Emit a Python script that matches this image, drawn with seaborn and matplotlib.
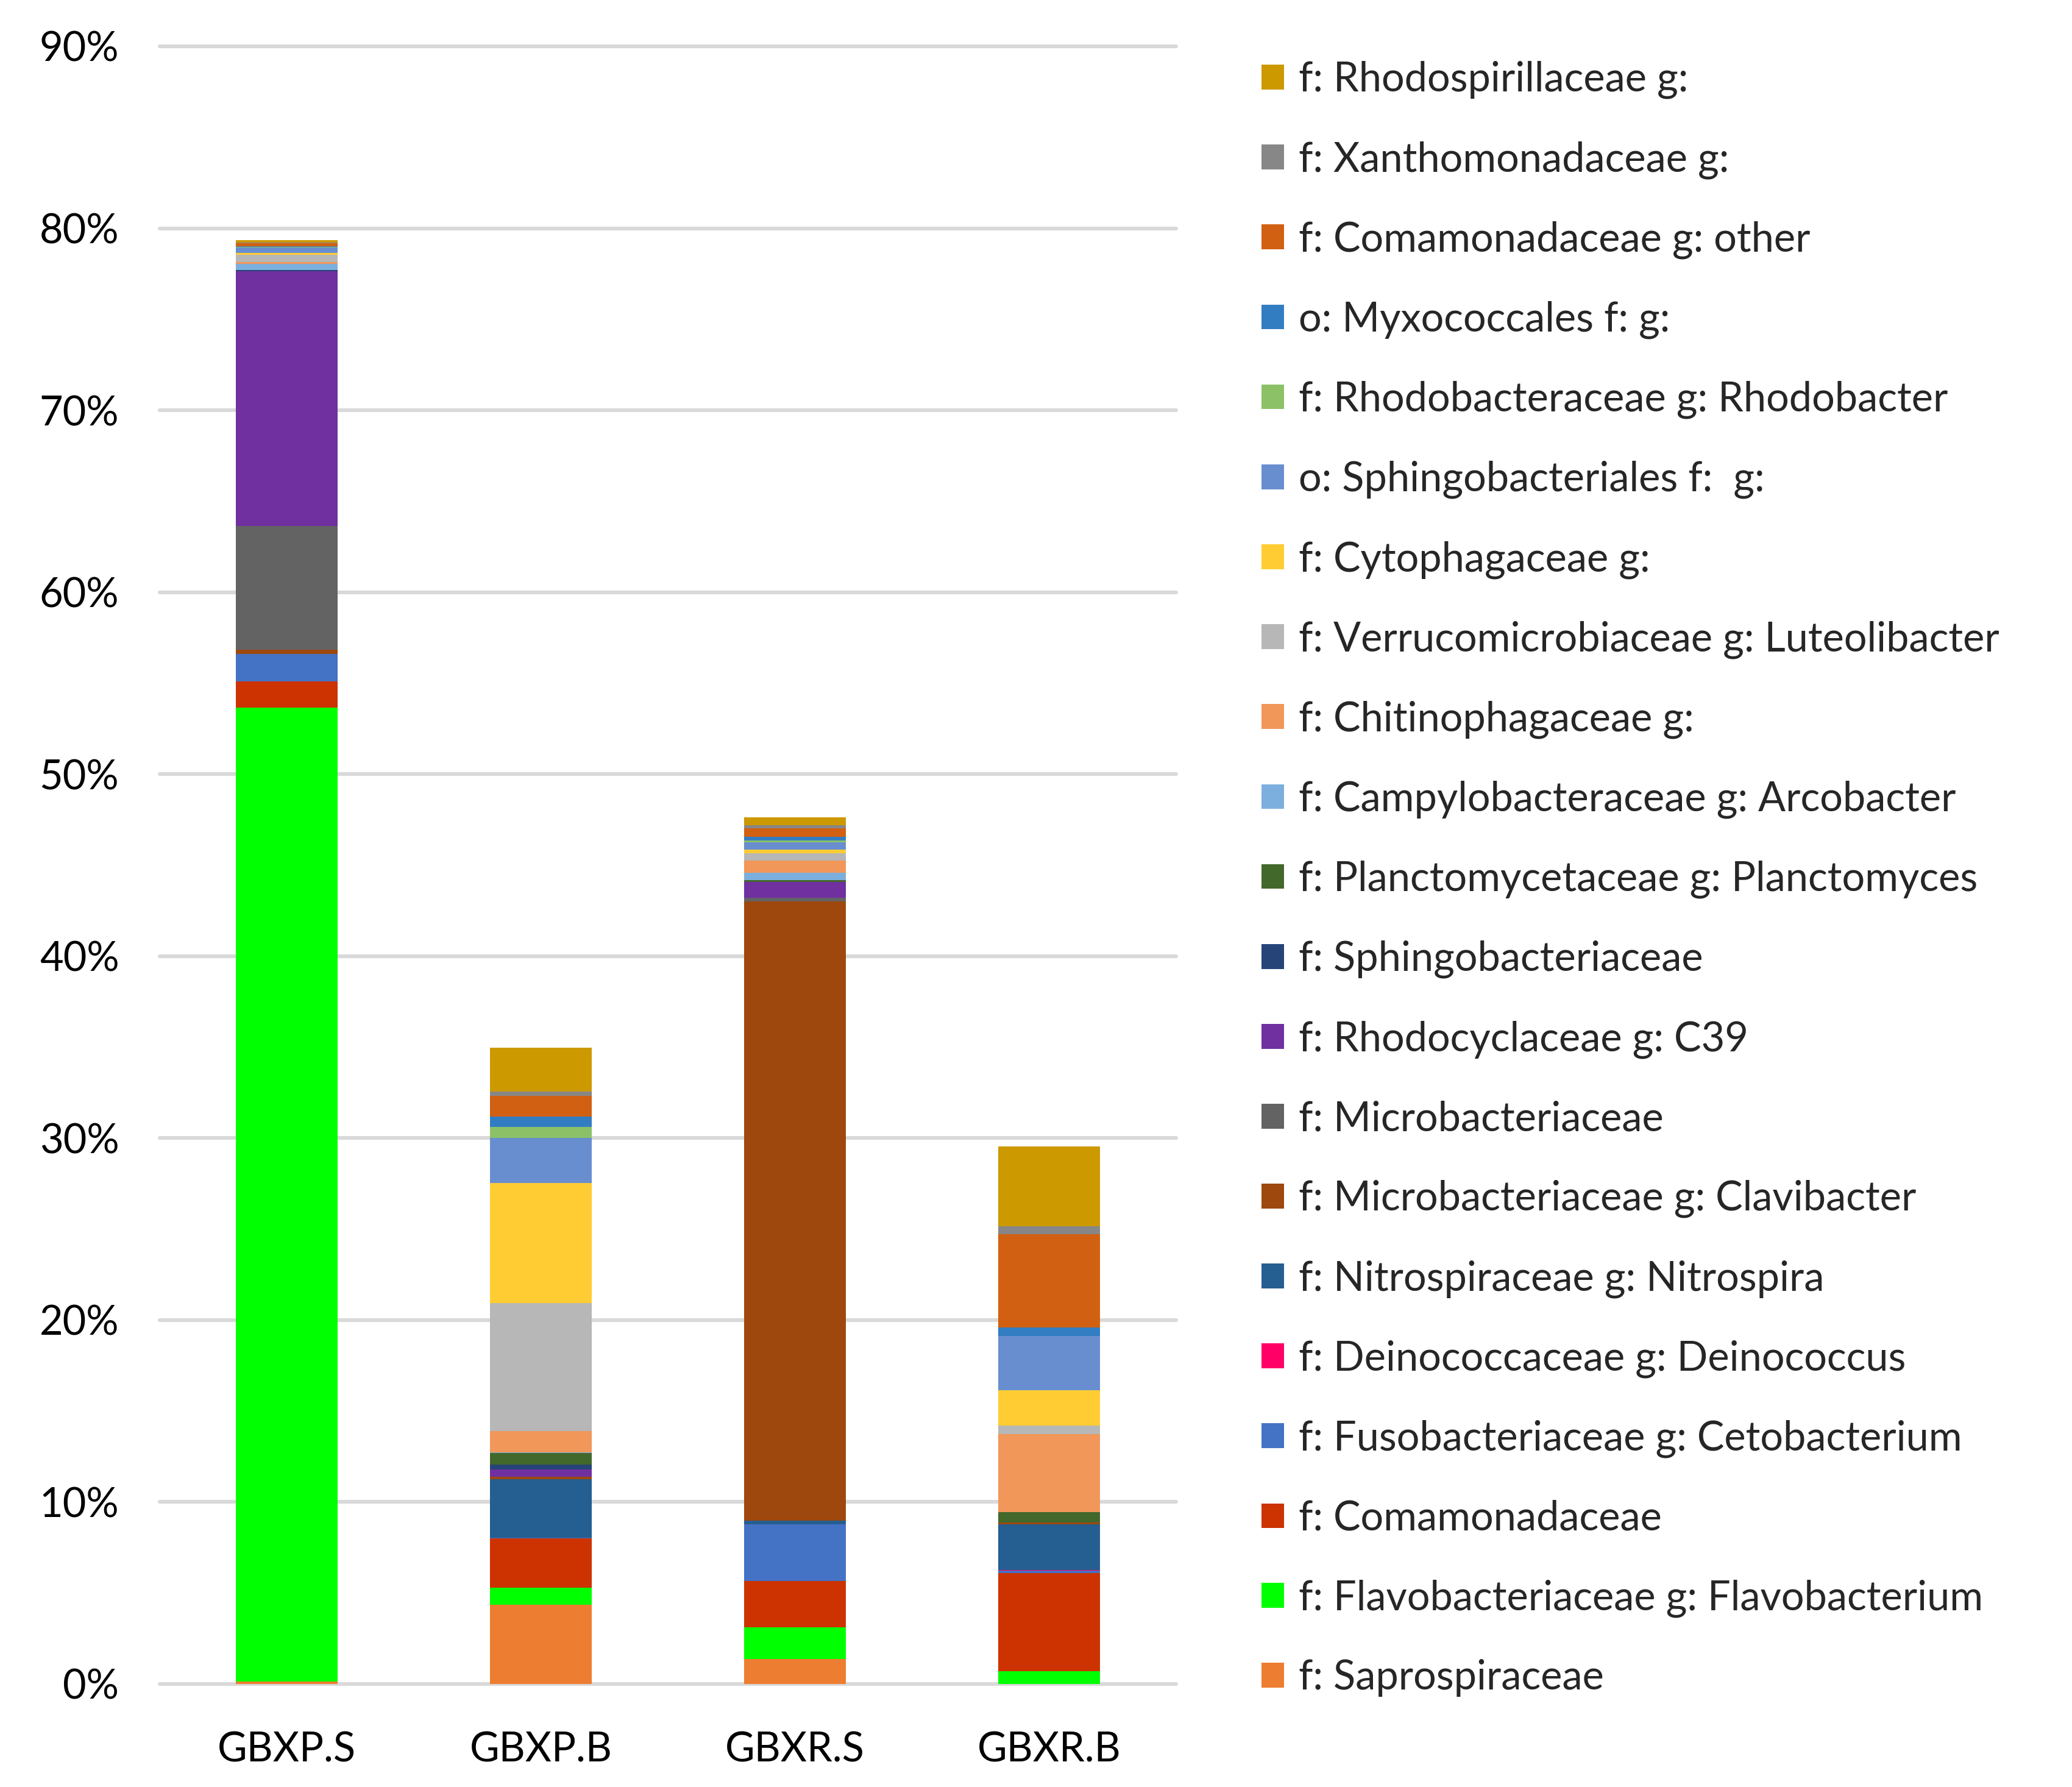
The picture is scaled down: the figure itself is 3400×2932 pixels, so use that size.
import matplotlib
matplotlib.use("Agg")
import matplotlib.pyplot as plt
from matplotlib.patches import Patch
import numpy as np
import seaborn as sns

# Samples on the x axis
samples = ["GBXP.S", "GBXP.B", "GBXR.S", "GBXR.B"]

# Relative abundance (%) per taxon, one value per sample (stack order bottom -> top)
saprospiraceae = [0.15, 4.35, 1.38, 0.0]
flavobacterium = [53.5, 0.94, 1.74, 0.7]
comamonadaceae = [1.45, 2.7, 2.55, 5.38]
cetobacterium = [1.5, 0.05, 3.1, 0.15]
deinococcus = [0.0, 0.0, 0.0, 0.05]
nitrospira = [0.0, 3.2, 0.22, 2.49]
clavibacter = [0.23, 0.16, 34.03, 0.09]
microbacteriaceae = [6.8, 0.0, 0.18, 0.03]
c39 = [14.0, 0.4, 0.87, 0.0]
sphingobacteriaceae = [0.07, 0.26, 0.0, 0.0]
planctomyces = [0.0, 0.64, 0.1, 0.54]
arcobacter = [0.33, 0.03, 0.4, 0.0]
chitinophagaceae = [0.1, 1.18, 0.67, 4.31]
luteolibacter = [0.42, 7.04, 0.4, 0.47]
cytophagaceae = [0.1, 6.59, 0.2, 1.94]
sphingobacteriales = [0.3, 2.47, 0.43, 2.96]
rhodobacter = [0.02, 0.61, 0.1, 0.03]
myxococcales = [0.06, 0.56, 0.2, 0.45]
comamonadaceae_other = [0.15, 1.13, 0.44, 5.13]
xanthomonadaceae = [0.03, 0.24, 0.19, 0.44]
rhodospirillaceae = [0.13, 2.42, 0.43, 4.37]

taxa = [
    "f: Saprospiraceae",
    "f: Flavobacteriaceae g: Flavobacterium",
    "f: Comamonadaceae",
    "f: Fusobacteriaceae g: Cetobacterium",
    "f: Deinococcaceae g: Deinococcus",
    "f: Nitrospiraceae g: Nitrospira",
    "f: Microbacteriaceae g: Clavibacter",
    "f: Microbacteriaceae",
    "f: Rhodocyclaceae g: C39",
    "f: Sphingobacteriaceae",
    "f: Planctomycetaceae g: Planctomyces",
    "f: Campylobacteraceae g: Arcobacter",
    "f: Chitinophagaceae g:",
    "f: Verrucomicrobiaceae g: Luteolibacter",
    "f: Cytophagaceae g:",
    "o: Sphingobacteriales f:  g:",
    "f: Rhodobacteraceae g: Rhodobacter",
    "o: Myxococcales f: g:",
    "f: Comamonadaceae g: other",
    "f: Xanthomonadaceae g:",
    "f: Rhodospirillaceae g:",
]

colors = [
    "#ED7D31", "#00FF00", "#CC3300", "#4472C4", "#FF0066", "#255E91",
    "#9E480E", "#636363", "#7030A0", "#264478", "#43682B", "#7CAFDD",
    "#F1975A", "#B7B7B7", "#FFCD33", "#698ED0", "#8CC168", "#327DC2",
    "#D26012", "#878787", "#CC9900",
]

values = [
    saprospiraceae, flavobacterium, comamonadaceae, cetobacterium, deinococcus,
    nitrospira, clavibacter, microbacteriaceae, c39, sphingobacteriaceae,
    planctomyces, arcobacter, chitinophagaceae, luteolibacter, cytophagaceae,
    sphingobacteriales, rhodobacter, myxococcales, comamonadaceae_other,
    xanthomonadaceae, rhodospirillaceae,
]

sns.set_theme(style="white")
plt.rcParams["font.family"] = ["Lato", "DejaVu Sans"]

fig = plt.figure(figsize=(17, 14.66), dpi=200)
ax = fig.add_axes([262 / 3400, 169 / 2932, 1668 / 3400, 2687 / 2932])

# Stacked bars: draw cumulative totals from the top series down so each layer covers the next
tops = np.cumsum(np.array(values), axis=0)
for i in range(len(taxa) - 1, -1, -1):
    sns.barplot(x=samples, y=tops[i], order=samples, color=colors[i], width=0.4,
                saturation=1, linewidth=0, errorbar=None, ax=ax)

ax.set_xlim(-0.5, 3.5)
ax.set_ylim(0, 90)
ax.set_yticks(np.arange(0, 91, 10))
ax.set_yticklabels([f"{v}%" for v in range(0, 91, 10)])
ax.set_xlabel("")
ax.set_ylabel("")
ax.set_axisbelow(True)
ax.yaxis.grid(True, color="#D9D9D9", linewidth=2.2)
ax.xaxis.grid(False)
for gl in ax.yaxis.get_gridlines():
    gl.set_clip_on(False)
for s in ax.spines.values():
    s.set_visible(False)
ax.tick_params(axis="y", length=0, pad=24, labelsize=24, labelcolor="black")
ax.tick_params(axis="x", length=0, pad=28, labelsize=24, labelcolor="black")

# Legend lists taxa top -> bottom (reverse of stacking)
handles = [Patch(facecolor=c, edgecolor="none", label=t) for t, c in zip(taxa, colors)][::-1]
fig.legend(handles=handles, loc="upper left", bbox_to_anchor=(2070 / 3400, 1 - 100 / 2932),
           frameon=False, fontsize=24, handlelength=0.56, handleheight=0.56,
           handletextpad=0.35, labelspacing=1.03, borderaxespad=0, borderpad=0)

fig.savefig("out.png", dpi=200)
